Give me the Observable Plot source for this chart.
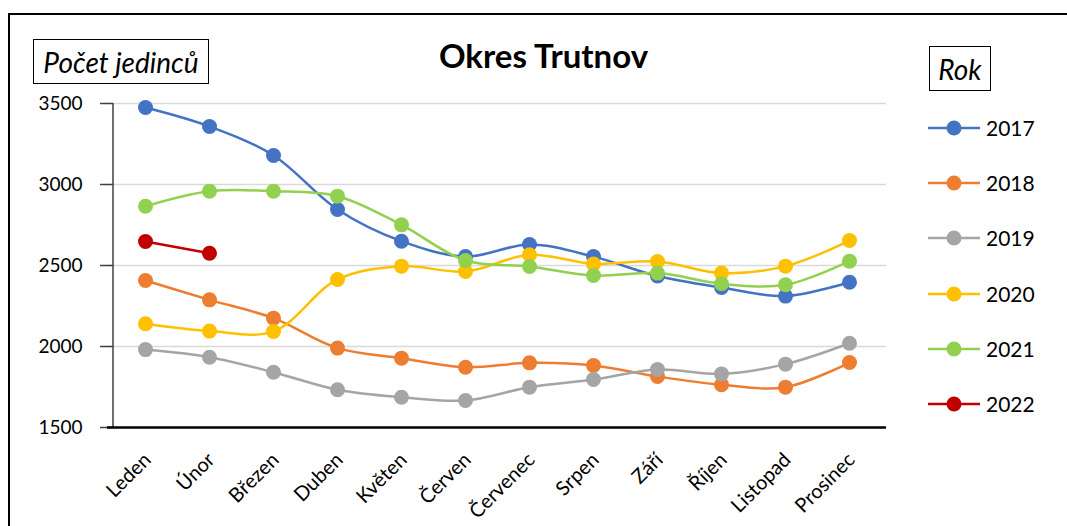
<!DOCTYPE html>
<html>
<head>
<meta charset="utf-8">
<script src="https://cdn.jsdelivr.net/npm/d3@7"></script>
<script src="https://cdn.jsdelivr.net/npm/@observablehq/plot@0.6"></script>
<style>
  html, body { margin: 0; padding: 0; background: #fff; }
  #wrap { position: relative; width: 1067px; height: 526px; overflow: hidden; font-family: Lato, "Open Sans", sans-serif; }
  #wrap svg { position: absolute; left: 0; top: 0; }
  .frame { position: absolute; left: 8px; top: 13px; width: 1100px; height: 600px; border-left: 2px solid #000; border-top: 2px solid #000; }
  .title { position: absolute; left: 0; width: 1067px; top: 35px; text-align: center; font-weight: bold; font-size: 33px; color: #000; padding-left: 20px; box-sizing: border-box; }
  .box { position: absolute; border: 1.5px solid #000; font-style: italic; color: #000; box-sizing: border-box; display: flex; align-items: center; justify-content: center; background: #fff; }
  .legend { position: absolute; left: 928px; top: 0; }
  .legend .item { position: absolute; left: 0; width: 140px; height: 30px; }
  .legend .item svg { position: absolute; left: 0; top: 0; }
  .legend .item span { position: absolute; left: 58px; top: 1px; font-size: 21px; color: #000; line-height: 28px; }
</style>
</head>
<body>
<div id="wrap"></div>
<script>
const months = ["Leden","Únor","Březen","Duben","Květen","Červen","Červenec","Srpen","Září","Říjen","Listopad","Prosinec"];
const years = ["2017","2018","2019","2020","2021","2022"];
const colors = ["#4472C4","#ED7D31","#A5A5A5","#FFC000","#92D050","#C00000"];
const v2017 = [3475,3358,3179,2846,2650,2555,2630,2555,2435,2364,2311,2397];
const v2018 = [2407,2288,2175,1990,1928,1872,1899,1883,1815,1764,1749,1901];
const v2019 = [1981,1934,1841,1733,1687,1667,1749,1796,1858,1831,1891,2020];
const v2020 = [2140,2095,2093,2414,2496,2463,2566,2510,2525,2453,2496,2654];
const v2021 = [2866,2959,2959,2928,2751,2531,2494,2438,2453,2387,2381,2527];
const v2022 = [2648,2576];
const yTicks = [1500,2000,2500,3000,3500];
const titleText = "Okres Trutnov";
const yLabel = "Počet jedinců";
const legendTitle = "Rok";

const seriesValues = [v2017, v2018, v2019, v2020, v2021, v2022];
const series = years.map((year, i) => ({
  year, color: colors[i],
  data: seriesValues[i].map((value, j) => ({month: months[j], value, year}))
}));

const marks = [
  Plot.gridY(yTicks, {stroke: "#d9d9d9", strokeOpacity: 1, strokeWidth: 1.5}),
  Plot.axisY(yTicks, {tickSize: 7, tickPadding: 18, fontSize: 19, tickFormat: d => String(d), stroke: "#404040", strokeWidth: 1.5, label: null}),
  Plot.axisY(yTicks, {tickSize: 6, dx: 6, text: null, stroke: "#404040", strokeWidth: 1.5, label: null}),
  Plot.ruleX([0], {x: () => months[0], dx: -32.5, stroke: "#404040", strokeWidth: 1.5}),
  Plot.ruleY([1500], {stroke: "#000", strokeWidth: 2.5}),
  Plot.text(months, {x: d => d, frameAnchor: "bottom", rotate: -45, textAnchor: "end", lineAnchor: "middle", dx: 2, dy: 29, fontSize: 20, fill: "#000"})
];
for (const s of series) {
  marks.push(Plot.line(s.data, {x: "month", y: "value", stroke: s.color, strokeWidth: 2.5, curve: "catmull-rom"}));
  marks.push(Plot.dot(s.data, {x: "month", y: "value", fill: s.color, r: 7.5}));
}

const chart = Plot.plot({
  width: 1067,
  height: 526,
  marginLeft: 107,
  marginRight: 181,
  marginTop: 103,
  marginBottom: 99,
  style: {fontFamily: "Lato, 'Open Sans', sans-serif", color: "#000", background: "transparent", overflow: "visible"},
  x: {type: "point", domain: months, padding: 0.5, axis: null},
  y: {domain: [1500, 3500]},
  marks
});

const wrap = document.getElementById("wrap");
wrap.appendChild(chart);

const frame = document.createElement("div");
frame.className = "frame";
wrap.appendChild(frame);

const t = document.createElement("div");
t.className = "title";
t.textContent = titleText;
wrap.appendChild(t);

const yl = document.createElement("div");
yl.className = "box";
Object.assign(yl.style, {left: "33px", top: "39px", width: "176px", height: "45px", fontSize: "28px"});
yl.textContent = yLabel;
wrap.appendChild(yl);

const lt = document.createElement("div");
lt.className = "box";
Object.assign(lt.style, {left: "929px", top: "46px", width: "62px", height: "45px", fontSize: "28px"});
lt.textContent = legendTitle;
wrap.appendChild(lt);

const legend = document.createElement("div");
legend.className = "legend";
years.forEach((year, i) => {
  const cy = 128 + i * 55.2;
  const item = document.createElement("div");
  item.className = "item";
  item.style.top = (cy - 15) + "px";
  item.innerHTML = `<svg width="56" height="30"><line x1="0" x2="52" y1="15" y2="15" stroke="${colors[i]}" stroke-width="2.5"/><circle cx="26" cy="15" r="7.5" fill="${colors[i]}"/></svg><span>${year}</span>`;
  legend.appendChild(item);
});
wrap.appendChild(legend);
</script>
</body>
</html>
